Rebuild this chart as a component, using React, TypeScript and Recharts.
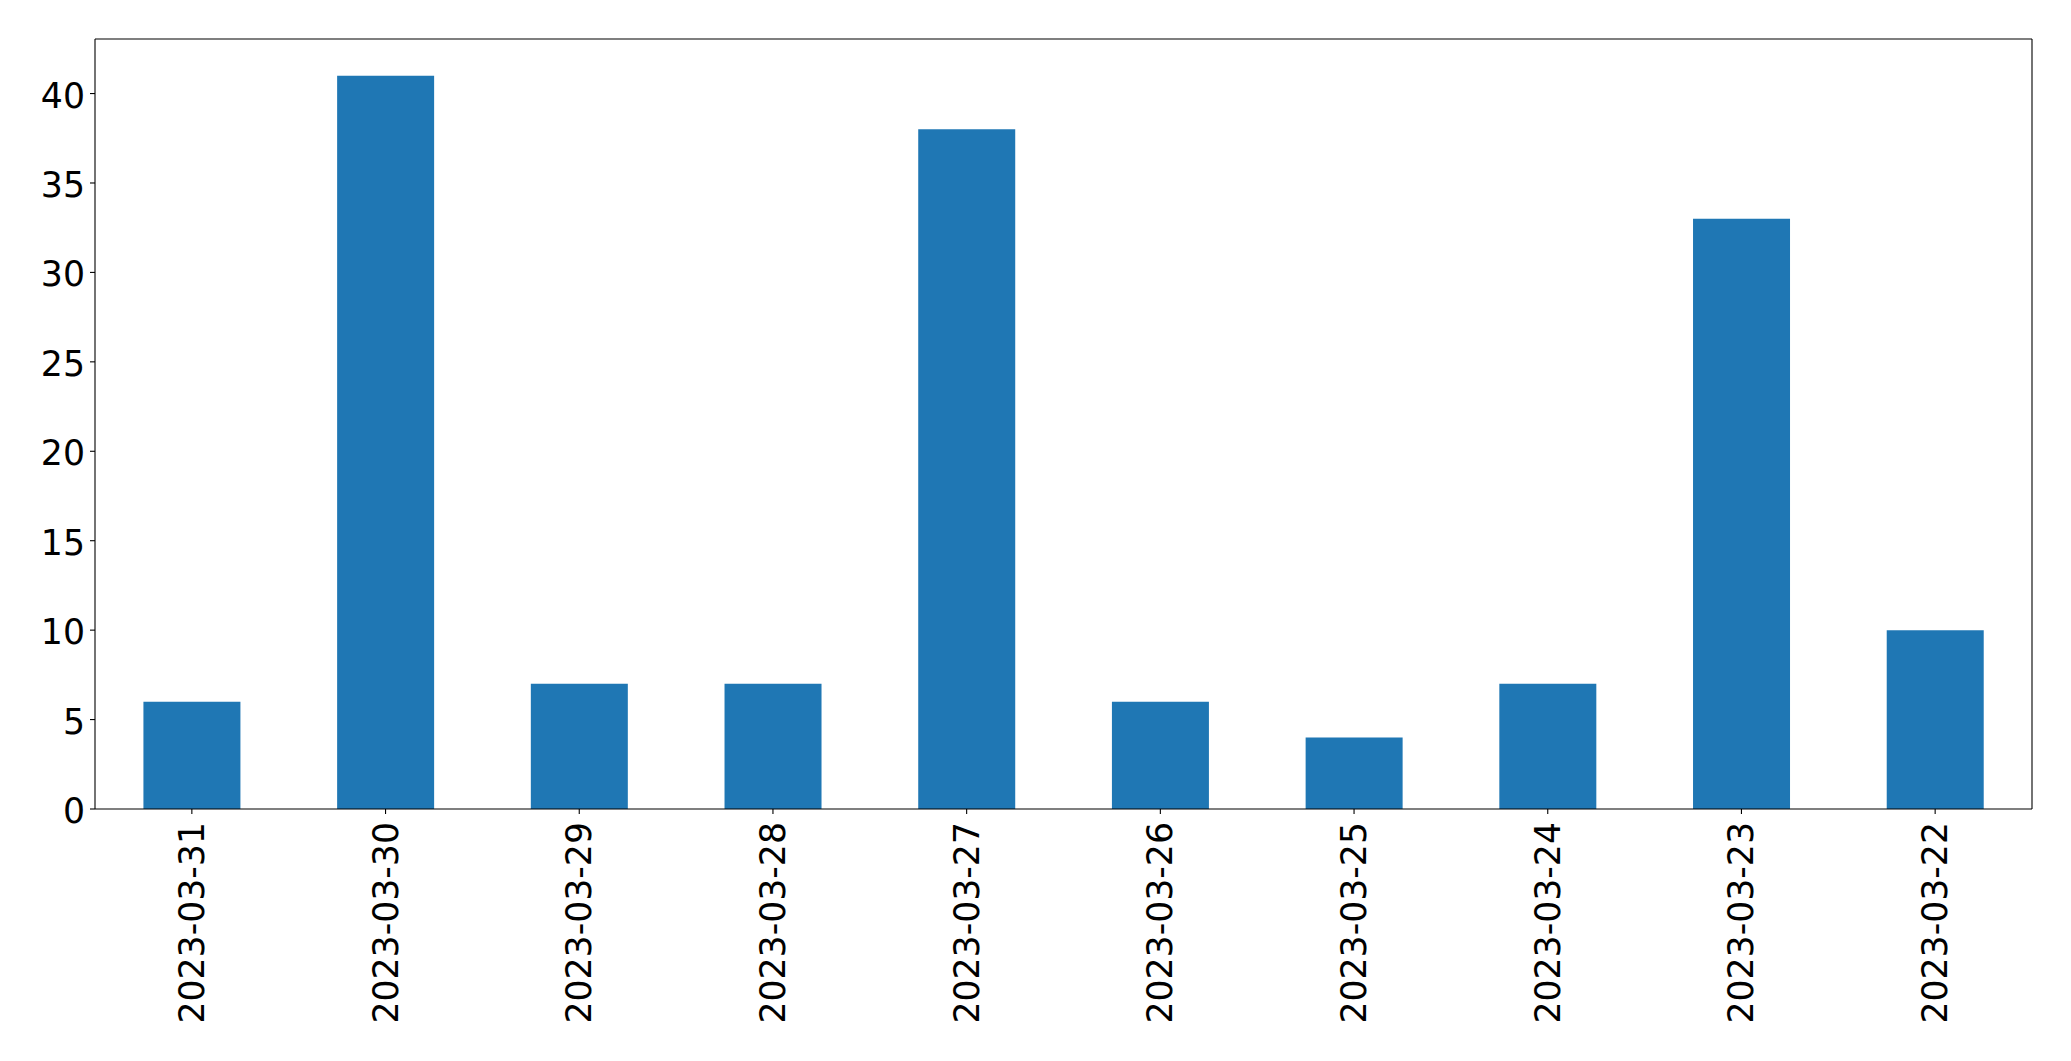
import { BarChart, Bar, XAxis, YAxis } from "recharts"

const dates = [
  "2023-03-31",
  "2023-03-30",
  "2023-03-29",
  "2023-03-28",
  "2023-03-27",
  "2023-03-26",
  "2023-03-25",
  "2023-03-24",
  "2023-03-23",
  "2023-03-22",
]
const counts = [6, 41, 7, 7, 38, 6, 4, 7, 33, 10]
const yTicks = [0, 5, 10, 15, 20, 25, 30, 35, 40]

const FONT = "'DejaVu Sans', sans-serif"
const FONT_SIZE = 34.7

// rotated date labels under each bar
function DateTick(props: any) {
  const { x, y, payload } = props
  return (
    <g transform={`translate(${x},${y})`}>
      <text
        transform="rotate(-90)"
        x={-6}
        y={0}
        textAnchor="end"
        dominantBaseline="central"
        fontFamily={FONT}
        fontSize={FONT_SIZE}
        fill="#000"
      >
        {payload.value}
      </text>
    </g>
  )
}

function CountTick(props: any) {
  const { x, y, payload } = props
  return (
    <text
      x={x}
      y={y + 2}
      textAnchor="end"
      dominantBaseline="central"
      fontFamily={FONT}
      fontSize={FONT_SIZE}
      fill="#000"
    >
      {payload.value}
    </text>
  )
}

export default function App() {
  const data = dates.map((d, i) => ({ date: d, count: counts[i] }))

  return (
    <div style={{ position: "absolute", left: 0, top: 0, background: "#fff" }}>
      <BarChart
        width={2071}
        height={1061}
        data={data}
        margin={{ top: 38, right: 38, left: 0, bottom: 0 }}
        barCategoryGap="25%"
      >
        <XAxis
          xAxisId="bottom"
          dataKey="date"
          height={252}
          interval={0}
          stroke="#000"
          strokeWidth={1.1}
          tick={<DateTick />}
          tickSize={5}
          tickMargin={2}
        />
        <XAxis
          xAxisId="top"
          orientation="top"
          dataKey="date"
          height={1}
          stroke="#000"
          strokeWidth={1.1}
          tick={false}
          tickLine={false}
        />
        <YAxis
          yAxisId="left"
          width={95}
          domain={[0, 43.05]}
          ticks={yTicks}
          allowDataOverflow
          stroke="#000"
          strokeWidth={1.1}
          tickSize={5}
          tickMargin={5}
          tick={<CountTick />}
        />
        <YAxis
          yAxisId="right"
          orientation="right"
          width={1}
          domain={[0, 43.05]}
          stroke="#000"
          strokeWidth={1.1}
          tick={false}
          tickLine={false}
        />
        <Bar
          xAxisId="bottom"
          yAxisId="left"
          dataKey="count"
          fill="#1f77b4"
          isAnimationActive={false}
        />
      </BarChart>
    </div>
  )
}
